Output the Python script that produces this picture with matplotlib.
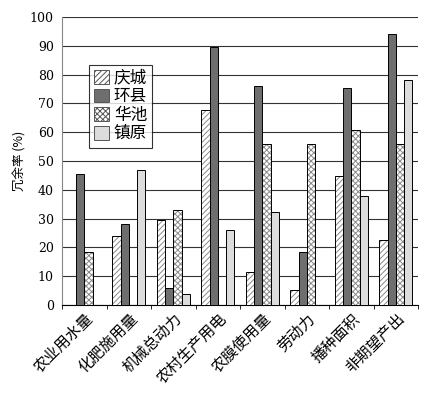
import numpy as np
import matplotlib.pyplot as plt
from matplotlib.patches import Patch

plt.rcParams['font.family'] = ['Noto Sans CJK SC', 'DejaVu Sans']
plt.rcParams['hatch.linewidth'] = 0.7

categories = ['农业用水量', '化肥施用量', '机械总动力', '农村生产用电',
              '农膜使用量', '劳动力', '播种面积', '非期望产出']
qingcheng = [0, 24.0, 29.4, 67.7, 11.3, 5.2, 44.7, 22.7]
huanxian = [45.5, 28.0, 6.0, 89.5, 76.0, 18.3, 75.5, 94.2]
huachi = [18.3, 0, 33.1, 0, 55.8, 55.8, 60.9, 55.8]
zhenyuan = [0, 46.8, 3.8, 25.9, 32.4, 0, 37.7, 78.2]

series = [('庆城', qingcheng, 'white', '//////'),
          ('环县', huanxian, '#6e6e6e', None),
          ('华池', huachi, 'white', 'xxxxxx'),
          ('镇原', zhenyuan, '#dcdcdc', None)]

fig = plt.figure(figsize=(4.31, 3.97), dpi=100)
ax = fig.add_axes([0.144, 0.232, 0.826, 0.725])

x = np.arange(len(categories))
w = 0.185
for i, (name, vals, col, hatch) in enumerate(series):
    pos = x + (i - 1.5) * w
    if hatch:
        # grey hatch fill first, then black outline on top
        ax.bar(pos, vals, w, color=col, edgecolor='#8a8a8a', linewidth=0,
               hatch=hatch, zorder=3)
    ax.bar(pos, vals, w, color='none' if hatch else col, edgecolor='black',
           linewidth=0.7, zorder=4)

ax.set_xlim(-0.5, len(categories) - 0.5)
ax.set_ylim(0, 100)
ax.set_yticks(range(0, 101, 10))
ax.set_yticklabels([str(v) for v in range(0, 101, 10)],
                   family='DejaVu Serif', fontsize=9)
ax.yaxis.grid(True, color='#333333', linewidth=0.8, zorder=0)
ax.tick_params(axis='y', length=0, pad=6)

ax.set_xticks(np.arange(-0.5, len(categories), 1), minor=True)
ax.set_xticks(x)
ax.set_xticklabels(categories, rotation=45, ha='right', rotation_mode='anchor',
                   fontsize=11)
ax.tick_params(axis='x', which='major', length=0, pad=4)
ax.tick_params(axis='x', which='minor', length=3, direction='out')

for s in ['top', 'right']:
    ax.spines[s].set_visible(False)
ax.spines['left'].set_color('#888888')

ax.set_ylabel('冗余率 (%)', fontsize=9, labelpad=2)

proxies = [Patch(facecolor=col, edgecolor='#555555', hatch=hatch,
                 linewidth=0.7, label=name)
           for name, vals, col, hatch in series]
leg = ax.legend(handles=proxies, loc='upper left', bbox_to_anchor=(0.075, 0.835),
                fontsize=12, frameon=True, fancybox=False, edgecolor='black',
                handlelength=0.9, handleheight=0.9, handletextpad=0.3,
                borderpad=0.3, labelspacing=0.1, borderaxespad=0)
leg.get_frame().set_linewidth(0.8)
leg.set_zorder(5)

fig.savefig('out.png', dpi=100)
